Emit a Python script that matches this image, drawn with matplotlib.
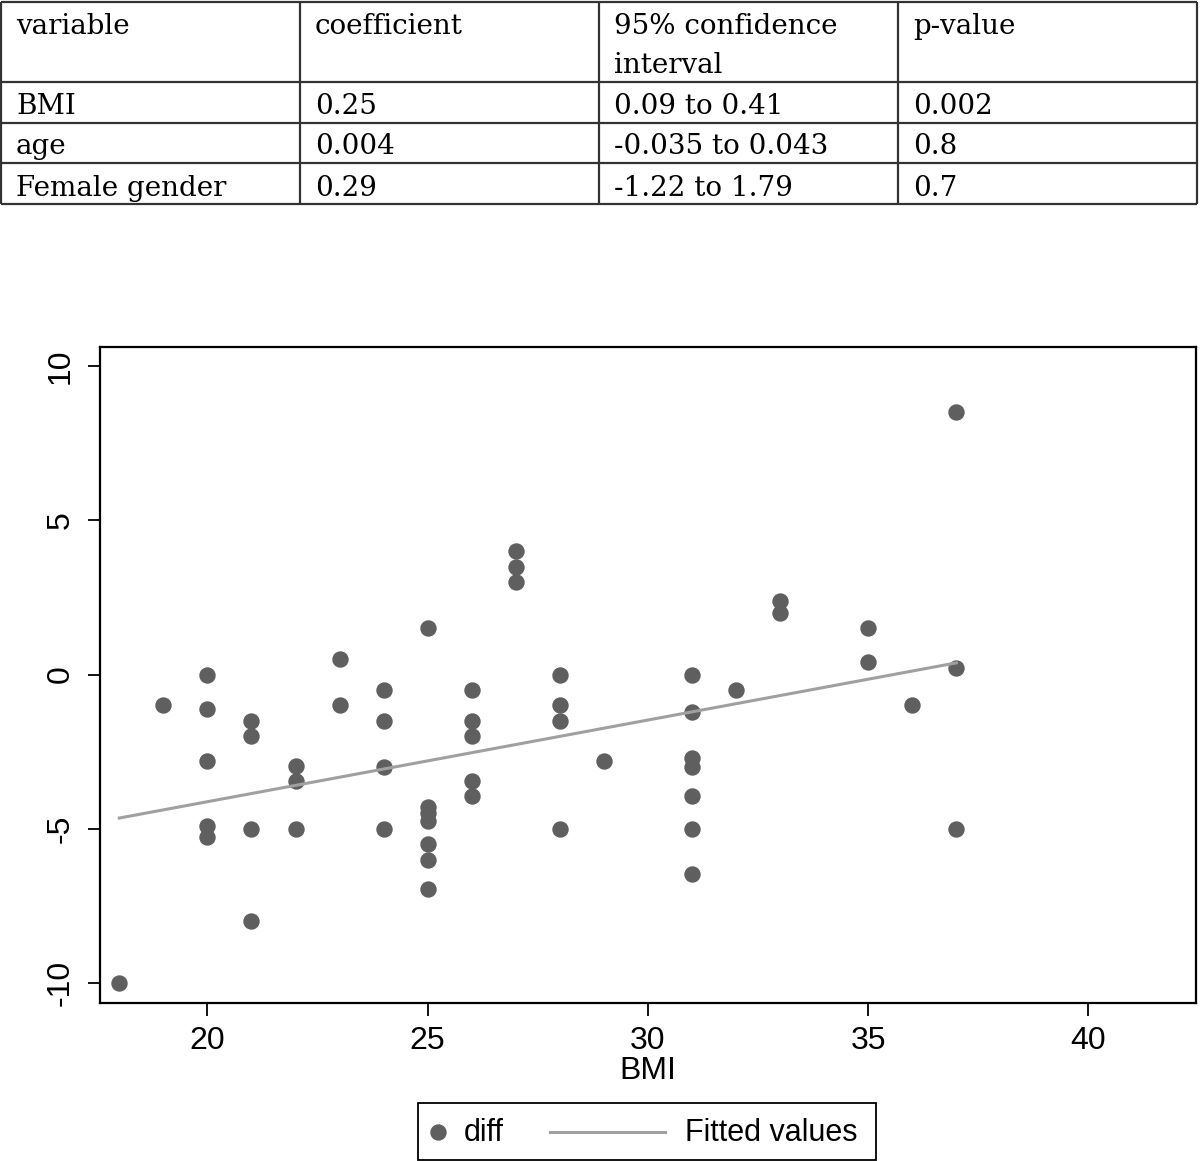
import matplotlib
matplotlib.use("Agg")
import matplotlib.pyplot as plt
from matplotlib.patches import Rectangle

# ---------------- data ----------------
table_header = ["variable", "coefficient", "95% confidence\ninterval", "p-value"]
table_variables = ["BMI", "age", "Female gender"]
table_coef = ["0.25", "0.004", "0.29"]
table_ci = ["0.09 to 0.41", "-0.035 to 0.043", "-1.22 to 1.79"]
table_p = ["0.002", "0.8", "0.7"]

bmi = [18, 19,
       20, 20, 20, 20, 20,
       21, 21, 21, 21,
       22, 22, 22,
       23, 23,
       24, 24, 24, 24,
       25, 25, 25, 25, 25, 25, 25,
       26, 26, 26, 26, 26,
       27, 27, 27,
       28, 28, 28, 28,
       29,
       31, 31, 31, 31, 31, 31, 31,
       32,
       33, 33,
       35, 35,
       36,
       37, 37, 37]
diff = [-10, -1,
        0, -1.1, -2.8, -4.9, -5.25,
        -1.5, -2, -5, -8,
        -2.95, -3.45, -5,
        0.5, -1,
        -0.5, -1.5, -3, -5,
        1.5, -4.3, -4.5, -4.75, -5.5, -6, -6.95,
        -0.5, -1.5, -2, -3.45, -3.95,
        4, 3.5, 3,
        0, -1, -1.5, -5,
        -2.8,
        0, -1.2, -2.7, -3, -3.95, -5, -6.45,
        -0.5,
        2.4, 2,
        1.5, 0.4,
        -1,
        8.5, 0.2, -5]

fit_x = [18, 37]
fit_y = [-4.65, 0.38]

x_ticks = [20, 25, 30, 35, 40]
y_ticks = [-10, -5, 0, 5, 10]

# ---------------- figure ----------------
W, H = 1200, 1161
fig = plt.figure(figsize=(W / 100, H / 100), dpi=100)
fig.patch.set_facecolor("white")

# overlay axes in pixel coordinates (table + legend)
ov = fig.add_axes([0, 0, 1, 1])
ov.set_xlim(0, W)
ov.set_ylim(H, 0)
ov.axis("off")

serif = ["DejaVu Serif"]
sans = ["Liberation Sans", "DejaVu Sans"]

# table grid
col_edges = [1, 300, 599, 898, 1197]
row_edges = [2, 81.5, 122.5, 163, 204]
lc = "#333333"
for yy in row_edges:
    ov.plot([col_edges[0], col_edges[-1]], [yy, yy], color=lc, lw=1.6, solid_capstyle="butt")
for xx in col_edges:
    ov.plot([xx, xx], [row_edges[0], row_edges[-1]], color=lc, lw=1.6, solid_capstyle="butt")

tfs = 20
pad = 15
for j, h in enumerate(table_header):
    for k, line in enumerate(h.split("\n")):
        ov.text(col_edges[j] + pad, 34 + 39 * k, line, family=serif, fontsize=tfs,
                va="baseline", ha="left", color="black")

rows = list(zip(table_variables, table_coef, table_ci, table_p))
for i, row in enumerate(rows):
    base = row_edges[i + 2] - 8.5
    for j, cell in enumerate(row):
        ov.text(col_edges[j] + pad, base, cell, family=serif, fontsize=tfs,
                va="baseline", ha="left", color="black")

# main axes
left, right, top, bottom = 99.5, 1195.5, 347, 1002.5
ax = fig.add_axes([left / W, 1 - bottom / H, (right - left) / W, (bottom - top) / H])
dot_color = "#5f5f5f"
line_color = "#a0a0a0"
ax.plot(bmi, diff, linestyle="none", marker="o", markersize=10.8,
        markerfacecolor=dot_color, markeredgecolor=dot_color, zorder=2)
ax.plot(fit_x, fit_y, color=line_color, lw=2.2, zorder=3)

ax.set_xlim(17.55, 42.43)
ax.set_ylim(-10.63, 10.62)
ax.set_xticks(x_ticks)
ax.set_yticks(y_ticks)
ax.set_xticklabels([str(v) for v in x_ticks], family=sans, fontsize=23)
ax.set_yticklabels([str(v) for v in y_ticks], family=sans, fontsize=23,
                   rotation=90, va="center")
ax.tick_params(axis="both", direction="out", length=9, width=1.3, color="black", pad=8)
for s in ax.spines.values():
    s.set_linewidth(1.6)
    s.set_color("black")
ax.set_xlabel("BMI", family=sans, fontsize=23, labelpad=0)

# legend (manual, in pixel coords)
ov.add_patch(Rectangle((418, 1102.5), 458, 57.5, fill=False, edgecolor="black", lw=1.3))
ly = 1132
ov.plot([438], [ly], linestyle="none", marker="o", markersize=10.8,
        markerfacecolor=dot_color, markeredgecolor=dot_color)
ov.text(464, ly + 1, "diff", family=sans, fontsize=22, va="center", ha="left")
ov.plot([550, 665], [ly, ly], color=line_color, lw=2.2)
ov.text(685, ly + 1, "Fitted values", family=sans, fontsize=22, va="center", ha="left")

fig.savefig("out.png", dpi=100, facecolor="white")
